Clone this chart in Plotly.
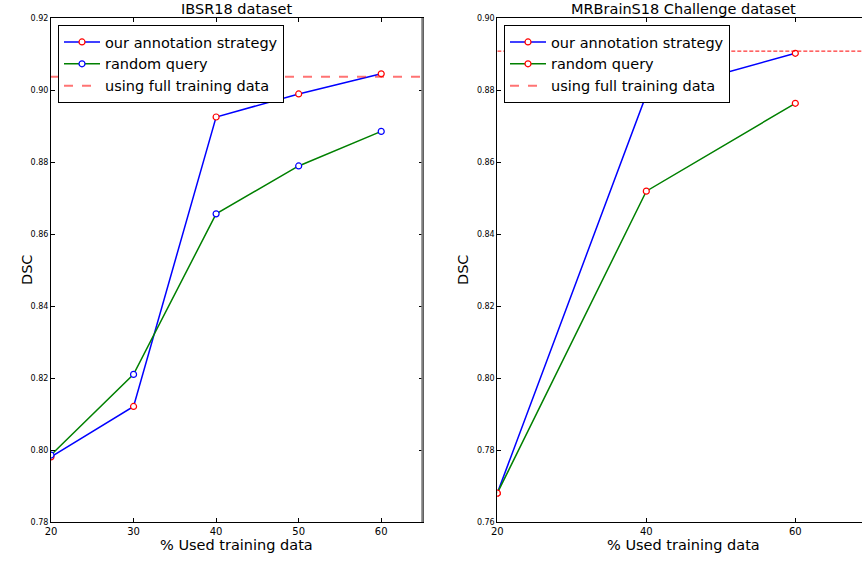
import plotly.graph_objects as go

# ---------------- data ----------------
x_ibsr = [20, 30, 40, 50, 60]
ibsr_ours = [0.7981, 0.8121, 0.8925, 0.8989, 0.9045]
ibsr_random = [0.7986, 0.8210, 0.8656, 0.8789, 0.8885]
ibsr_full = 0.9037

x_mr = [20, 40, 60]
mr_ours = [0.768, 0.8787, 0.8902]
mr_random = [0.768, 0.8519, 0.8763]
mr_full = 0.8908

ibsr_xticks = [20, 30, 40, 50, 60]
ibsr_yticks = [0.78, 0.80, 0.82, 0.84, 0.86, 0.88, 0.90, 0.92]
mr_xticks = [20, 40, 60]
mr_yticks = [0.76, 0.78, 0.80, 0.82, 0.84, 0.86, 0.88, 0.90]

labels = ["our annotation strategy", "random query", "using full training data"]

FONT = "DejaVu Sans"
W, H = 862, 561
FS = 14.5

fig = go.Figure()

def mk(color):
    return dict(symbol="circle", size=6, color="white", line=dict(color=color, width=1.2))

# ---- left subplot ----
fig.add_trace(go.Scatter(x=x_ibsr, y=ibsr_ours, mode="lines+markers", name=labels[0],
                         line=dict(color="#0000ff", width=1.5), marker=mk("#ff0000"),
                         xaxis="x", yaxis="y", legend="legend"))
fig.add_trace(go.Scatter(x=x_ibsr, y=ibsr_random, mode="lines+markers", name=labels[1],
                         line=dict(color="#008000", width=1.5), marker=mk("#0000ff"),
                         xaxis="x", yaxis="y", legend="legend"))
fig.add_trace(go.Scatter(x=[ibsr_xticks[0], 65], y=[ibsr_full, ibsr_full], mode="lines", name=labels[2],
                         line=dict(color="rgba(255,0,0,0.55)", width=2, dash="dash"),
                         xaxis="x", yaxis="y", legend="legend"))

# ---- right subplot ----
fig.add_trace(go.Scatter(x=x_mr, y=mr_ours, mode="lines+markers", name=labels[0],
                         line=dict(color="#0000ff", width=1.5), marker=mk("#ff0000"),
                         xaxis="x2", yaxis="y2", legend="legend2"))
fig.add_trace(go.Scatter(x=x_mr, y=mr_random, mode="lines+markers", name=labels[1],
                         line=dict(color="#008000", width=1.5), marker=mk("#ff0000"),
                         xaxis="x2", yaxis="y2", legend="legend2"))
fig.add_trace(go.Scatter(x=[mr_xticks[0], 70], y=[mr_full, mr_full], mode="lines", name=labels[2],
                         line=dict(color="#ff0000", width=1, dash="4px,2px"),
                         xaxis="x2", yaxis="y2", legend="legend2", showlegend=False))
fig.add_trace(go.Scatter(x=[None], y=[None], mode="lines", name=labels[2],
                         line=dict(color="rgba(255,0,0,0.55)", width=2, dash="dash"),
                         xaxis="x2", yaxis="y2", legend="legend2"))

ydom = [(H - 522) / H, (H - 18) / H]
left_dom = [51 / W, 422.5 / W]
right_dom = [497.3 / W, 1.0]

axis_common = dict(showgrid=False, zeroline=False, showline=True, linecolor="black", linewidth=1,
                   ticks="inside", ticklen=4, tickwidth=1, tickcolor="black", automargin=False)

fig.update_layout(
    template="none",
    width=W, height=H,
    margin=dict(l=0, r=0, t=0, b=0, pad=0, autoexpand=False),
    paper_bgcolor="white", plot_bgcolor="white",
    font=dict(family=FONT, color="black"),
    showlegend=True,
    xaxis=dict(domain=left_dom, range=[20, 65], tickvals=ibsr_xticks, mirror="ticks",
               tickfont=dict(size=10), anchor="y", **axis_common),
    yaxis=dict(domain=ydom, range=[0.78, 0.92], tickvals=ibsr_yticks, tickformat=".2f", mirror="ticks",
               tickfont=dict(size=8), anchor="x", **axis_common),
    xaxis2=dict(domain=right_dom, range=[20, 68.95], tickvals=mr_xticks, mirror="ticks",
                tickfont=dict(size=10), anchor="y2", **axis_common),
    yaxis2=dict(domain=ydom, range=[0.76, 0.90], tickvals=mr_yticks, tickformat=".2f", mirror=False,
                tickfont=dict(size=8), anchor="x2", **axis_common),
    legend=dict(x=58 / W, y=(H - 25) / H, xanchor="left", yanchor="top",
                bgcolor="white", bordercolor="black", borderwidth=1, itemwidth=36,
                font=dict(size=FS, family=FONT)),
    legend2=dict(x=504 / W, y=(H - 25) / H, xanchor="left", yanchor="top",
                 bgcolor="white", bordercolor="black", borderwidth=1, itemwidth=36,
                 font=dict(size=FS, family=FONT)),
)

# gray right spine on left subplot
fig.add_shape(type="line", xref="x domain", yref="y domain", x0=1, x1=1, y0=0, y1=1,
              line=dict(color="gray", width=2.5), layer="above")

ann = [
    dict(text="IBSR18 dataset", x=(left_dom[0] + left_dom[1]) / 2, y=(H - 9) / H),
    dict(text="MRBrainS18 Challenge dataset", x=683.5 / W, y=(H - 9) / H),
    dict(text="% Used training data", x=(left_dom[0] + left_dom[1]) / 2, y=(H - 545) / H),
    dict(text="% Used training data", x=683.5 / W, y=(H - 545) / H),
]
for a in ann:
    fig.add_annotation(xref="paper", yref="paper", showarrow=False, xanchor="center", yanchor="middle",
                       font=dict(size=FS, family=FONT, color="black"), **a)
fig.add_annotation(text="DSC", xref="paper", yref="paper", x=17 / W, y=(H - 270) / H, textangle=-90,
                   showarrow=False, font=dict(size=FS, family=FONT, color="black"))
fig.add_annotation(text="DSC", xref="paper", yref="paper", x=463 / W, y=(H - 270) / H, textangle=-90,
                   showarrow=False, font=dict(size=FS, family=FONT, color="black"))

fig.write_html("out.html", config={"displayModeBar": False},
               post_script="document.body.style.margin='0';")
